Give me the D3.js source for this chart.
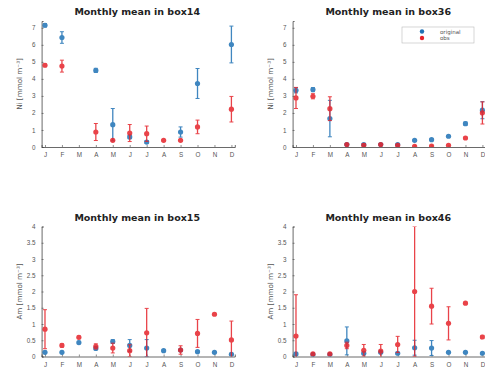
<!DOCTYPE html>
<html><head><meta charset="utf-8">
<script src="https://cdn.jsdelivr.net/npm/d3@7"></script>
<style>body{margin:0;background:#fff;}svg{display:block;font-family:"DejaVu Sans",sans-serif;}</style>
</head><body><svg id="c" width="485" height="372"></svg>
<script>
const months = ["J","F","M","A","M","J","J","A","S","O","N","D"];
const seriesNames = ["original","obs"];
const seriesColors = ["#1f72b5","#e6232a"];
const titles = ["Monthly mean in box14","Monthly mean in box36","Monthly mean in box15","Monthly mean in box46"];
const yLabels = ["Ni [mmol m\u207B\u00B3]","Ni [mmol m\u207B\u00B3]","Am [mmol m\u207B\u00B3]","Am [mmol m\u207B\u00B3]"];
const topTicks = [0,1,2,3,4,5,6,7];
const bottomTicks = [0,0.5,1,1.5,2,2.5,3,3.5,4];

const box14Blue = [7.15,6.43,null,4.5,1.31,0.59,0.29,null,0.88,3.73,null,6.02];
const box14BlueErr = [0.1,0.34,null,0.12,0.95,0.1,0.08,null,0.3,0.88,null,1.08];
const box14Red = [4.8,4.75,null,0.88,0.39,0.82,0.78,0.39,0.39,1.18,null,2.22];
const box14RedErr = [0.08,0.35,null,0.5,0.05,0.5,0.45,0.05,0.05,0.4,null,0.75];

const box36Blue = [3.33,3.37,1.67,0.14,0.14,0.14,0.14,0.39,0.43,0.63,1.37,2.16];
const box36BlueErr = [0.15,0.12,1.07,0.05,0.05,0.05,0.05,0.05,0.05,0.05,0.1,0.5];
const box36Red = [2.88,2.98,2.25,0.14,0.1,0.14,0.1,0.04,0.06,0.1,0.53,2.0];
const box36RedErr = [0.62,0.15,0.7,0.05,0.1,0.05,0.05,0.03,0.04,0.05,0.05,0.65];

const box15Blue = [0.13,0.13,0.43,0.25,0.46,0.34,0.26,0.18,0.2,0.15,0.13,0.07];
const box15BlueErr = [0.03,0.03,0.04,0.04,0.06,0.18,0.26,0.02,0.02,0.02,0.02,0.03];
const box15Red = [0.84,0.34,0.59,0.31,0.26,0.18,0.73,null,0.2,0.71,1.3,0.51];
const box15RedErr = [0.6,0.05,0.04,0.08,0.15,0.18,0.75,null,0.13,0.43,0.03,0.58];

const box46Blue = [0.08,0.06,0.06,0.48,0.1,0.13,0.1,0.27,0.26,0.13,0.13,0.1];
const box46BlueErr = [0.03,0.02,0.02,0.43,0.03,0.03,0.03,0.23,0.23,0.02,0.02,0.02];
const box46Red = [0.63,0.08,0.08,0.34,0.19,0.17,0.37,2.0,1.55,1.02,1.64,0.6];
const box46RedErr = [1.27,0.03,0.03,0.1,0.18,0.2,0.25,2.0,0.55,0.51,0.03,0.05];

const panels = [
  {x0:41.6, y0:147, yTop:21, dom:[0,7.4], ticks:topTicks, series:[[box14Blue,box14BlueErr],[box14Red,box14RedErr]], legend:false},
  {x0:292.6, y0:147, yTop:21, dom:[0,7.4], ticks:topTicks, series:[[box36Blue,box36BlueErr],[box36Red,box36RedErr]], legend:true},
  {x0:41.6, y0:356.5, yTop:226.5, dom:[0,4], ticks:bottomTicks, series:[[box15Blue,box15BlueErr],[box15Red,box15RedErr]], legend:false},
  {x0:292.6, y0:356.5, yTop:226.5, dom:[0,4], ticks:bottomTicks, series:[[box46Blue,box46BlueErr],[box46Red,box46RedErr]], legend:false}
];
const W = 193.2;
const svg = d3.select("#c");

panels.forEach((p,pi)=>{
  const g = svg.append("g");
  const x = d3.scaleLinear().domain([0.8,12.2]).range([p.x0, p.x0+W]);
  const y = d3.scaleLinear().domain(p.dom).range([p.y0, p.yTop]);
  const cid = "clip"+pi;
  g.append("clipPath").attr("id",cid).append("rect")
    .attr("x",p.x0).attr("y",p.yTop).attr("width",W).attr("height",p.y0-p.yTop);

  const ya = g.append("g").attr("transform",`translate(${p.x0},0)`)
    .call(d3.axisLeft(y).tickValues(p.ticks).tickSize(-2).tickPadding(6).tickFormat(d3.format("~g")));
  const xa = g.append("g").attr("transform",`translate(0,${p.y0})`)
    .call(d3.axisBottom(x).tickValues(d3.range(1,13)).tickSize(-2).tickPadding(6).tickFormat((d)=>months[d-1]));
  [ya,xa].forEach(a=>{
    a.select(".domain").attr("stroke","#444").attr("stroke-width",0.8);
    a.selectAll(".tick line").attr("stroke","#444").attr("stroke-width",0.6);
    a.selectAll(".tick text").attr("fill","#555").attr("font-size","6.3px");
  });

  g.append("text").attr("x",p.x0+W/2-1).attr("y",p.yTop-6)
    .attr("text-anchor","middle").attr("font-weight","bold").attr("font-size","9.5px").attr("fill","#222")
    .text(titles[pi]);
  g.append("text").attr("transform",`translate(${p.x0-20},${(p.y0+p.yTop)/2}) rotate(-90)`)
    .attr("text-anchor","middle").attr("font-size","7.2px").attr("fill","#555").text(yLabels[pi]);

  const plot = g.append("g").attr("clip-path",`url(#${cid})`);
  p.series.forEach((s,si)=>{
    const [mean,err] = s;
    const col = seriesColors[si];
    const data = mean.map((m,i)=>({i:i+1,m:m,e:err[i]})).filter(d=>d.m!==null);
    const sg = plot.append("g").attr("opacity",0.85);
    sg.selectAll("line.eb").data(data).join("line").attr("class","eb")
      .attr("x1",d=>x(d.i)).attr("x2",d=>x(d.i))
      .attr("y1",d=>y(d.m-d.e)).attr("y2",d=>y(d.m+d.e))
      .attr("stroke",col).attr("stroke-width",1.3);
    sg.selectAll("line.ct").data(data).join("line").attr("class","ct")
      .attr("x1",d=>x(d.i)-2).attr("x2",d=>x(d.i)+2)
      .attr("y1",d=>y(d.m+d.e)).attr("y2",d=>y(d.m+d.e))
      .attr("stroke",col).attr("stroke-width",1);
    sg.selectAll("line.cb").data(data).join("line").attr("class","cb")
      .attr("x1",d=>x(d.i)-2).attr("x2",d=>x(d.i)+2)
      .attr("y1",d=>y(d.m-d.e)).attr("y2",d=>y(d.m-d.e))
      .attr("stroke",col).attr("stroke-width",1);
    sg.selectAll("circle").data(data).join("circle")
      .attr("cx",d=>x(d.i)).attr("cy",d=>y(d.m)).attr("r",2.6).attr("fill",col);
  });

  if(p.legend){
    const lg = g.append("g");
    lg.append("rect").attr("x",402).attr("y",27).attr("width",72).attr("height",16)
      .attr("fill","#fff").attr("stroke","#bbb").attr("stroke-width",0.6);
    seriesNames.forEach((n,k)=>{
      lg.append("circle").attr("cx",422).attr("cy",31.5+k*6.5).attr("r",2.2).attr("fill",seriesColors[k]);
      lg.append("text").attr("x",440).attr("y",33.5+k*6.5).attr("font-size","5.5px").attr("fill","#555").text(n);
    });
  }
});
</script></body></html>
